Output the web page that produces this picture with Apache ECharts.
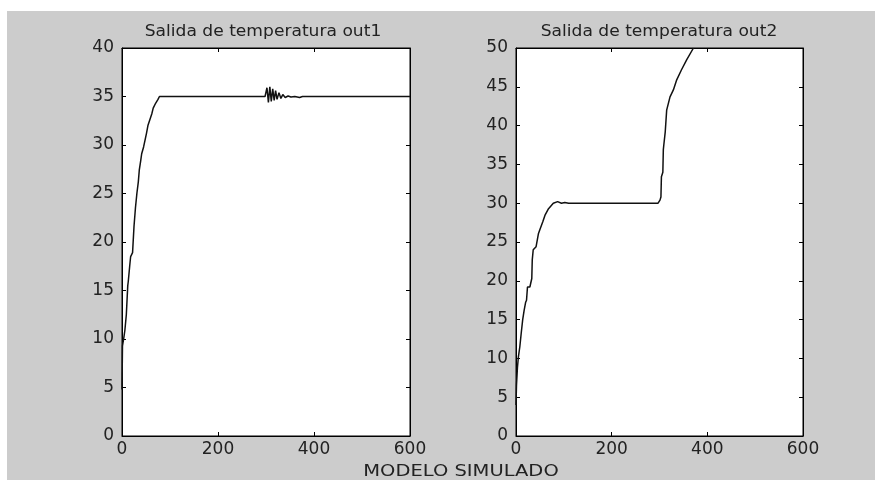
<!DOCTYPE html>
<html>
<head>
<meta charset="utf-8">
<script src="https://cdn.jsdelivr.net/npm/echarts@6/dist/echarts.min.js"></script>
<style>
  html, body { margin: 0; padding: 0; background: #fff; }
  #main { width: 875px; height: 480px; }
</style>
</head>
<body>
<div id="main"></div>
<script>
// out1: tiempo / temperatura
const t1 = [0, 0.5, 1, 4, 6, 9, 12, 13, 16, 18, 22, 25, 28, 31, 34, 36, 39, 41, 45, 48, 51, 54, 58, 62, 65, 70, 75, 78, 82, 90, 200, 298,
    300, 302, 305, 308, 311, 314, 317, 320, 323, 327, 331, 335, 340, 346, 352, 360, 370, 376, 600];
const y1 = [4.8, 7, 9.3, 10.2, 10.9, 12.5, 15.5, 15.9, 17.5, 18.5, 18.9, 21.6, 23.5, 25, 26.2, 27.4, 28.4, 29.1, 29.8, 30.5, 31.2, 32, 32.6, 33.2, 33.8, 34.3, 34.7, 35, 35.1, 35, 35, 35,
    35, 35.9, 34.4, 36.0, 34.5, 35.8, 34.6, 35.6, 34.7, 35.4, 34.8, 35.2, 34.9, 35.05, 34.95, 35, 34.9, 35, 35];

// out2: tiempo / temperatura
const t2 = [0, 1, 3, 5, 8, 11, 14, 17, 20, 22, 24, 29, 33, 34, 36, 42, 47, 50, 56, 61, 68, 78, 87, 95, 102, 110, 200, 297,
    301, 303, 304, 307, 308, 309, 312, 315, 322, 329, 336, 346, 357, 371];
const y2 = [4, 6.5, 8.8, 10.2, 11.5, 13.3, 15, 16.2, 17.2, 17.5, 19.2, 19.2, 20.3, 22.7, 24, 24.4, 26.1, 26.6, 27.6, 28.5, 29.3, 30.0, 30.2, 30.0, 30.1, 30, 30, 30,
    30.4, 30.8, 33.4, 34, 36.9, 37.5, 39.2, 42, 43.7, 44.6, 45.9, 47.2, 48.5, 50];

const titles = ['Salida de temperatura out1', 'Salida de temperatura out2'];
const xTicks = [0, 600, 200];   // min, max, interval
const yMax = [40, 50];

const font = 'DejaVu Sans';
const chart = echarts.init(document.getElementById('main'));

function xAx(grid, pos, labels) {
    return {
        type: 'value', gridIndex: grid, position: pos,
        min: xTicks[0], max: xTicks[1], interval: xTicks[2],
        axisLine: { show: true, onZero: false, lineStyle: { color: '#000', width: 1 } },
        axisTick: { show: true, inside: true, length: 4, lineStyle: { color: '#000' } },
        axisLabel: { show: labels, color: '#222', fontFamily: font, fontSize: 17, margin: 5 },
        splitLine: { show: false }
    };
}
function yAx(grid, pos, labels, max) {
    return {
        type: 'value', gridIndex: grid, position: pos,
        min: 0, max: max, interval: 5,
        axisLine: { show: true, onZero: false, lineStyle: { color: '#000', width: 1 } },
        axisTick: { show: true, inside: true, length: 4, lineStyle: { color: '#000' } },
        axisLabel: { show: labels, color: '#222', fontFamily: font, fontSize: 17, margin: 8 },
        splitLine: { show: false }
    };
}

function label(txt, x, y, sx) {
    return {
        type: 'text', x: x, y: y, scaleX: sx, silent: true, z: 10,
        style: { text: txt, fill: '#222', font: '15px "DejaVu Sans"', align: 'center', verticalAlign: 'middle' }
    };
}

chart.setOption({
    backgroundColor: '#fff',
    animation: false,
    graphic: [
        { type: 'rect', z: -10, silent: true, shape: { x: 7, y: 11, width: 868, height: 469 }, style: { fill: '#cccccc' } },
        label(titles[0], 263, 32, 1.14),
        label(titles[1], 659, 32, 1.14),
        label('MODELO SIMULADO', 461, 472, 1.3)
    ],
    grid: [
        { left: 122, top: 48, width: 288, height: 388, show: true, backgroundColor: '#fff', borderColor: '#000', borderWidth: 1 },
        { left: 516, top: 48, width: 287, height: 388, show: true, backgroundColor: '#fff', borderColor: '#000', borderWidth: 1 }
    ],
    xAxis: [xAx(0, 'bottom', true), xAx(0, 'top', false), xAx(1, 'bottom', true), xAx(1, 'top', false)],
    yAxis: [yAx(0, 'left', true, yMax[0]), yAx(0, 'right', false, yMax[0]), yAx(1, 'left', true, yMax[1]), yAx(1, 'right', false, yMax[1])],
    series: [
        {
            type: 'line', xAxisIndex: 0, yAxisIndex: 0, showSymbol: false, clip: true,
            lineStyle: { color: '#111', width: 1.5 },
            data: t1.map((t, i) => [t, y1[i]])
        },
        {
            type: 'line', xAxisIndex: 2, yAxisIndex: 2, showSymbol: false, clip: true,
            lineStyle: { color: '#111', width: 1.5 },
            data: t2.map((t, i) => [t, y2[i]])
        }
    ]
});
</script>
</body>
</html>
